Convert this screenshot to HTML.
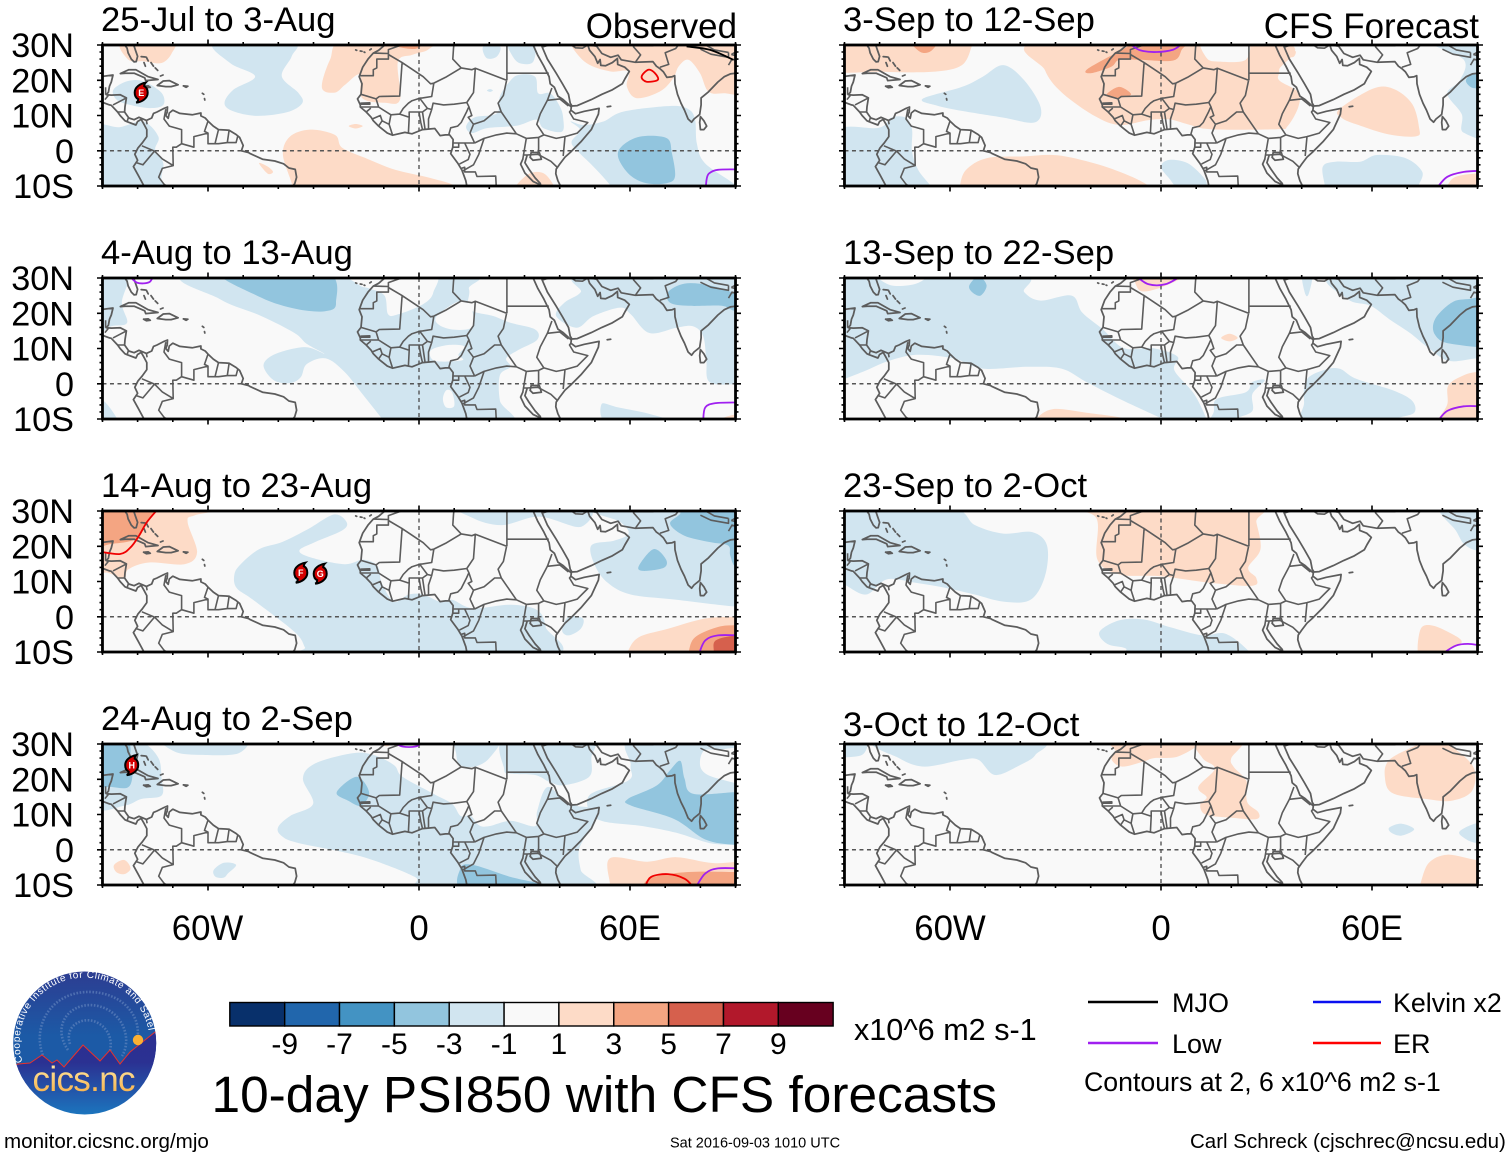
<!DOCTYPE html>
<html lang="en">
<head>
<meta charset="utf-8">
<title>10-day PSI850 with CFS forecasts</title>
<style>
html,body{margin:0;padding:0;background:#fff;}
svg{display:block;font-family:"Liberation Sans",sans-serif;}
</style>
</head>
<body>
<svg id="figure" xmlns="http://www.w3.org/2000/svg" width="1510" height="1158" viewBox="0 0 1510 1158">
  <rect x="0" y="0" width="1510" height="1158" fill="#fff"/>
  <g id="panels"></g>

  <g font-size="34.8" text-anchor="middle">
    <text x="207.5" y="940">60W</text>
    <text x="419" y="940">0</text>
    <text x="630" y="940">60E</text>
  </g>
  <g font-size="34.8" text-anchor="middle">
    <text x="950" y="940">60W</text>
    <text x="1161" y="940">0</text>
    <text x="1372" y="940">60E</text>
  </g>

  <g id="colorbar"></g>
  <text x="854" y="1040" font-size="30.6">x10^6 m2 s-1</text>
  <text x="211.5" y="1112" font-size="51.4">10-day PSI850 with CFS forecasts</text>

  <g>
    <line x1="1088" y1="1002" x2="1158" y2="1002" stroke="#000" stroke-width="2.4"/>
    <text x="1172" y="1012" font-size="27">MJO</text>
    <line x1="1088" y1="1043" x2="1158" y2="1043" stroke="#a020f0" stroke-width="2.6"/>
    <text x="1172" y="1053" font-size="27">Low</text>
    <line x1="1313" y1="1002" x2="1381" y2="1002" stroke="#0a10f0" stroke-width="2.6"/>
    <text x="1393" y="1012" font-size="26.8">Kelvin x2</text>
    <line x1="1313" y1="1043" x2="1381" y2="1043" stroke="#f00" stroke-width="2.6"/>
    <text x="1393" y="1053" font-size="27">ER</text>
    <text x="1084" y="1091" font-size="26.7">Contours at 2, 6 x10^6 m2 s-1</text>
  </g>

  <a><text x="4" y="1148" font-size="20.6">monitor.cicsnc.org/mjo</text></a>
  <text x="670" y="1147.5" font-size="14.5">Sat 2016-09-03 1010 UTC</text>
  <text x="1190" y="1148" font-size="20.5">Carl Schreck (cjschrec@ncsu.edu)</text>

  <g>
    <defs>
      <clipPath id="logo-clip"><circle cx="84.7" cy="1043" r="71.5"/></clipPath>
      <linearGradient id="logo-sky" x1="0" y1="0" x2="0" y2="1"><stop offset="0" stop-color="#2d3c91"/><stop offset="0.6" stop-color="#1c5aa6"/><stop offset="1" stop-color="#1c5aa6"/></linearGradient>
      <linearGradient id="logo-ground" x1="0" y1="0" x2="0" y2="1"><stop offset="0" stop-color="#2c2f90"/><stop offset="0.36" stop-color="#2b3192"/><stop offset="1" stop-color="#1a7cc2"/></linearGradient>
      <linearGradient id="logo-text-fill" x1="0" y1="0" x2="0" y2="1"><stop offset="0" stop-color="#fff0b0"/><stop offset="1" stop-color="#f7a83a"/></linearGradient>
      <path id="logo-arc" d="M 22.6 1062 A 65 65 0 1 1 148.6 1031"/>
    </defs>
    <g clip-path="url(#logo-clip)">
      <rect x="10" y="970" width="150" height="110" fill="url(#logo-sky)"/>
      <path d="M70 1044 C64 1026 82 1016 96 1022 C114 1030 114 1052 104 1062 M68 1050 C50 1024 72 1000 98 1006 C124 1012 132 1040 122 1056 M44 1058 C30 1026 52 990 92 992 C126 994 144 1020 136 1044" fill="none" stroke="#6f8fc4" stroke-width="2.6" stroke-dasharray="1.6 1.6" opacity="0.55"/>
      <path d="M10 1066 L18 1064 L30 1063 L42 1055 L52 1063 L57 1060 L64 1067 L83 1045 L100 1061 L110 1050 L120 1064 L130 1052 L155 1032 L160 1030 L160 1120 L10 1120 Z" fill="url(#logo-ground)" stroke="#e8322c" stroke-width="1"/>
      <circle cx="138" cy="1040" r="5.2" fill="#fbb034"/>
    </g>
    <text font-size="10" fill="#ffffff"><textPath href="#logo-arc" textLength="232">Cooperative Institute for Climate and Satellites</textPath></text>
    <text x="84" y="1091" font-size="35" text-anchor="middle" fill="url(#logo-text-fill)" textLength="103">cics.nc</text>
  </g>
</svg>

<script>
/* ---------- Colour scale data ---------- */
const colorLevels = [-9, -7, -5, -3, -1, 1, 3, 5, 7, 9];
const colorBoxes = ['#08306b', '#2166ac', '#4393c3', '#92c5de', '#d1e5f0', '#f9f9f9', '#fddbc7', '#f4a582', '#d6604d', '#b2182b', '#67001f'];

/* ---------- Axis data ---------- */
const latTickLabels = ['30N', '20N', '10N', '0', '10S'];
const latTickValues = [30, 20, 10, 0, -10];
const lonMajorTicks = [-60, 0, 60];
const lonMinorTicks = [-90, -80, -70, -50, -40, -30, -20, -10, 10, 20, 30, 40, 50, 70, 80, 90];
const latMinorTicks = [28, 26, 24, 22, 18, 16, 14, 12, 8, 6, 4, 2, -2, -4, -6, -8];

/* ---------- Map outlines (lon, lat) ---------- */
const coastlines = [
  [[-84,30.5],[-83,29.1],[-82.7,27.8],[-81.8,26],[-81,25.2],[-80.4,25.3],[-80,26.8],[-80.6,28.5],[-81.3,30.5]],
  [[-92,21],[-90,21.1],[-87,21.5],[-87.5,19.5],[-88,18.3],[-88.3,16.6],[-88.9,15.9],[-87.5,15.8],[-85,15.9],[-83.2,15],[-83.6,12.5],[-83.7,11],[-82.5,9.3],[-81,8.8],[-79.6,9.5],[-77.5,8.6],[-76,9.3],[-75.5,10.6],[-74.5,11],[-72.5,12],[-71.5,12.4],[-71.6,11],[-72,10],[-71.3,9.2],[-71,10.7],[-70,11.5],[-68,10.6],[-64.5,10.2],[-62,10.7],[-62,9.9],[-60.8,9.3],[-60,8.4],[-58.5,7],[-57,6],[-55,5.9],[-54,5.8],[-52,4.6],[-51,3.8],[-50,1.5],[-50.5,0],[-48.5,-0.5],[-48,-0.8],[-44.5,-2.4],[-41,-2.9],[-38.5,-3.7],[-37,-4.9],[-35.2,-5.3],[-34.8,-7.5],[-35.3,-9.3],[-36.5,-11]],
  [[-92,14.5],[-88,13],[-87.5,12.9],[-85.7,11],[-85,10],[-83.6,8.5],[-82.9,8.2],[-80.5,7.3],[-80,8.3],[-79,8.9],[-78.2,7.5],[-77.4,6],[-77.4,4],[-78.7,2.2],[-79.9,0.8],[-80.8,-1],[-80,-2.7],[-81.2,-4.5],[-79.8,-7],[-78.2,-10],[-77,-12]],
  [[-84.9,21.9],[-82.5,23],[-80.5,23],[-77,21],[-74.2,20.2],[-77.7,19.9],[-78,20.7],[-81,22],[-83.5,22],[-84.9,21.9]],
  [[-74.4,18.5],[-72.7,19.8],[-71,19.9],[-68.5,18.7],[-70.5,18.2],[-72,18.2],[-74.4,18.5]],
  [[-78.3,18.3],[-77,18.4],[-76.4,18],[-77.5,17.9],[-78.3,18.3]],
  [[-67,18.4],[-65.7,18.3],[-66.2,18],[-67,18.4]],
  [[-79,26.7],[-77.8,26.6]], [[-78.2,25],[-77.8,24]], [[-77.5,26.5],[-77,25.5]], [[-76.2,25],[-75.5,24]], [[-75,23.5],[-74.3,22.8]], [[-73.5,21.2],[-72.8,21.5]],
  [[-61.6,16.3],[-61.2,16]], [[-61,14.8],[-60.9,14.4]],
  [[-18,28.6],[-17.7,28.5]], [[-16.7,28.3],[-16.2,28.2]], [[-15.6,28],[-15.4,27.9]], [[-14,28.6],[-13.6,28.9]],
  [[53.5,12.5],[54.5,12.6]],
  [[-9.7,31],[-9.7,30],[-11.5,28.5],[-13,27.7],[-14.5,26],[-16,23.7],[-17,21],[-16.2,19],[-16.5,16],[-17.5,14.7],[-16.7,13],[-16.7,12.4],[-15,11],[-13.6,9.5],[-13,8.5],[-11.5,7],[-9,5],[-7.5,4.4],[-4,5.2],[-2,4.8],[0,5.6],[1,6],[4.5,6.3],[6,4.3],[7.5,4.5],[8.7,4.5],[9.7,3.2],[9.6,1],[9,-0.8],[11,-3.5],[12.2,-5.5],[13.3,-8.5],[13.8,-11]],
  [[32.5,31],[32.5,29.9],[33.8,27],[35.5,24],[37,21],[37.3,19],[38.5,18],[39.5,15.5],[41,14.5],[43.3,12.4],[43.2,11.5],[44.5,10.5],[47,11.2],[51.2,12],[51,10.4],[49,6],[46,2.5],[43,-0.5],[41.5,-1.8],[40,-3.8],[39,-5.2],[38.9,-6.5],[39.5,-8.5],[40.5,-10.5],[40.6,-12]],
  [[34.8,31],[35,29.5],[36.5,26],[39,22],[40.8,19],[42.5,16],[43,13.5],[43.5,12.7],[45,12.8],[49,14.5],[52,16],[55,17.3],[57.8,19],[58.6,20.5],[59.8,22.5],[58.5,23.7],[56.5,24.5],[56.4,26.2],[55,25],[53,24.1],[51.7,24.2],[51.5,25.9],[50.8,24.8],[50,26.7],[48.5,28.5],[48,30],[48.5,31]],
  [[48.5,30],[50.5,29.7],[52,27.6],[54.5,26.5],[56.6,27.1],[57.5,25.8],[61.5,25.1],[66.5,25.3],[67.5,24],[68.5,23.3],[69.5,22.4],[70.5,20.8],[72,21],[72.7,21.3],[72.8,19],[73.5,16],[74.5,13.5],[75.5,11.5],[76.5,9],[77.5,8.1],[78.2,9],[79.8,10.3],[80.2,13],[80.2,15],[82.3,16.7],[85,19.5],[86.8,21],[88.5,21.8],[90,22],[92,22.5]],
  [[80,9.7],[81,8.5],[81.8,7],[81,6],[80,6],[79.8,8],[80,9.7]],
  [[31.9,-0.5],[34.2,-0.5],[34.8,-2.4],[32.4,-2.7],[31.6,-1.9],[31.9,-0.5]],
  [[29.5,-2.4],[28.9,-3.8],[30.1,-6.3],[32.4,-8.7],[34.8,-9.8]],
  [[30.7,-1.4],[30.1,-3.4],[31.3,-5.3],[33,-7.7],[34.5,-9.3]]
];
const borders = [
  [[-89.1,18],[-89.1,15.9]], [[-88.3,15.7],[-89.3,14.5]], [[-83.2,15],[-87,13]], [[-83.7,11],[-85.7,11]], [[-82.6,9.5],[-83,8.2]], [[-77.5,8.6],[-77.3,7.5]],
  [[-72,11.8],[-72.5,9],[-71,7],[-67.5,6],[-67.5,2],[-69,1],[-70,1],[-69.9,-4.2],[-73,-2.3],[-75.2,-0.1],[-78.8,1.4]],
  [[-75.2,-0.1],[-78.5,-4],[-80.3,-3.4]],
  [[-69.9,-4.2],[-73,-5],[-74,-7.5],[-72.5,-9.5],[-70.5,-11]],
  [[-60,8.4],[-61,5.5],[-60,5],[-60,2],[-57,2],[-54.5,2.3],[-52,2.3],[-51.5,4.3]],
  [[-57,6],[-58,2]], [[-54,5.8],[-54.5,2.3]], [[-67.5,2],[-64,1],[-64,4],[-60,5]],
  [[-8.7,27.6],[-13,27.7]],
  [[-17,21.3],[-13,21.3],[-13,23],[-12,23.5],[-12,26],[-8.7,26],[-8.7,28.7],[-5,30],[-3,31]],
  [[-8.7,27.3],[-4.8,25],[-5.5,15.5],[-11.3,15.4],[-12.2,14.7],[-16.5,16]],
  [[-4.8,25],[1.2,21],[3.3,19],[4.2,19.2],[7.5,20.8],[12,23.5],[15,23],[16,23.4],[24.9,20]],
  [[12,23.5],[9.6,26],[9.8,29],[10,31]],
  [[25,31],[25,20]],
  [[25,22],[36.9,22]],
  [[4.2,19.1],[3.6,15.4],[1,15],[0.2,14.9],[-2,14.2],[-3,13.5],[-4.5,12],[-5.5,10.4]],
  [[16,23.4],[15.5,16.5],[13.6,13.7]],
  [[13.6,13.7],[10,13.2],[7,13],[4,13.5],[3.6,11.7],[2.7,9],[2.7,6.3]],
  [[0.2,14.9],[2.4,12],[3.6,11.7]],
  [[2.4,12],[1,11],[1.7,6.2]],
  [[1,11],[0,11],[0.5,8],[1,6]],
  [[0,11],[-2.8,11],[-2.8,9.5],[-3,5]],
  [[-2.8,9.5],[-5.5,10.4],[-8,10.2],[-8.5,7.5],[-7.5,4.4]],
  [[-8.5,7.5],[-10.5,8.5],[-11.5,7]],
  [[-10.5,8.5],[-11,10],[-13.3,9]],
  [[-8,10.2],[-11.5,12.4],[-12.2,14.7]],
  [[-11.5,12.4],[-16.7,12.4]],
  [[-16.7,13.5],[-14,13.6],[-14,13.2],[-16.7,13.2]],
  [[-15,11],[-13.7,12.1]],
  [[13.6,13.7],[14.2,12.5],[13.5,11],[12,8],[11,7],[9,6.5],[8.5,4.7]],
  [[14.2,12.5],[15,10],[14,9.5],[15.5,7.5],[14.5,5],[15.8,2.2]],
  [[15.8,2.2],[9.8,2.2]],
  [[11.3,2.2],[11.3,1],[9.6,1]],
  [[13,2.2],[14.5,-1],[14,-2.5],[11.5,-3.8]],
  [[15.8,2.2],[18.5,3.5],[17,-1],[15.5,-4],[12.3,-5.8]],
  [[18.5,3.5],[22,4.5],[25,5],[27.7,4.8]],
  [[15.5,7.5],[18.5,8.5],[21.5,11],[23.4,11]],
  [[24.9,20],[24,15.7],[22.5,13.5],[23.4,11],[27.7,4.8],[30.5,3.5],[34,3.8],[35.5,4.5],[33.5,7.5],[34.5,10.5],[36.5,14.3],[37.8,17.8]],
  [[36.5,14.3],[40,14.7],[42.5,12.7]],
  [[43.2,11.5],[42.8,11],[44,9],[48,8],[45,5],[41.5,4]],
  [[35.5,4.5],[39,3.5],[41.5,4],[41,-1.5]],
  [[34,3.8],[34,0.5],[33.8,-1],[37.5,-3],[39.2,-4.6]],
  [[30.5,3.5],[29.7,-1.2],[30.7,-1.2],[33.8,-1]],
  [[29.7,-1.2],[29.5,-2.4]],
  [[12,-5],[13,-4.7],[13,-6],[16,-6],[16.5,-7.3],[21.8,-7.2],[22,-11]],
  [[81,30.3],[84,28.6],[88,27.9]], [[80,28.8],[83,27.4],[88,26.5],[88,27.9]], [[88.8,27.3],[90,27],[92,27]], [[88.8,27.3],[90,28],[91,28]], [[88,24.3],[89,26],[92,25.2]],
  [[74.5,31],[73,29],[70,27.8],[71,24.5],[68.5,23.7]],
  [[61.5,25.1],[63,27.2],[61,29.5],[61,31]], [[61,29.8],[66.5,29.8],[66,31]],
  [[48,30],[46.5,29.1],[44.5,29.2],[42,31]], [[35,29.4],[37,30],[38,31]]
];

/* ---------- Shaded PSI850 anomaly regions: value (x10^6 m2 s-1), outline (lon, lat) ---------- */
const shadeJul25 = [
  [2, [[-84.5,31],[-82.6,25.8],[-78.4,25.4],[-73.2,24.9],[-70.3,27.7],[-70.3,31]]],
  [2, [[-36,-10],[-38.7,-1.1],[-36.7,4],[-31,6],[-23.9,4.5],[-21.9,0.9],[-15.4,-2],[-6.8,-5.4],[3.1,-7.7],[10.2,-10],[10.2,-13],[-36.7,-13]]],
  [2, [[-20,7],[-18,7.6],[-16,7],[-18,6.3]]],
  [2, [[-45.5,-3.5],[-43,-4.5],[-41.5,-6],[-43,-6.5]]],
  [2, [[-27.6,17.9],[-25.3,25.8],[-21,31.5],[3.1,31.5],[2.6,28.7],[-2,27.2],[-6,25.2],[-5.4,14.5],[-9.7,13.6],[-16.2,15],[-16.8,21.6],[-21,18.7],[-23.9,16.5]]],
  [4, [[-8,31.5],[-8,30],[-1,28.9],[1,31.5]]],
  [2, [[27.8,-9.7],[31.6,-6.4],[35.4,-6.4],[38.2,-9.7],[38.2,-12],[27.8,-12]]],
  [2, [[43.4,29.6],[47.7,24.8],[54.3,22.5],[59.5,22.5],[59.1,18.2],[61.9,14.9],[68.5,16.8],[72.3,20.6],[73.8,23.9],[76.6,25.8],[79.9,22],[82.3,16.8],[86.6,16.3],[93,17.3],[93,31.5],[43.4,31.5]]],
  [-2, [[-86.9,17.3],[-83,19.7],[-78.4,19.7],[-73.2,16.4],[-72.7,13],[-76.5,12.1],[-82.2,13],[-86,14.5]]],
  [-2, [[-58,30.6],[-53.7,24.9],[-46.6,21.1],[-52.8,17.3],[-55.3,13.5],[-52.8,11.2],[-46.1,9.9],[-37.6,10.9],[-33.2,13.5],[-34.3,16.4],[-39,21.1],[-36.2,26.8],[-36.2,30.6]]],
  [-2, [[-93,6],[-85,6.7],[-78.4,8.3],[-74.1,4],[-75,0.3],[-72.7,-3.5],[-73.2,-8.2],[-70.8,-11],[-70.8,-13],[-93,-13]]],
  [-2, [[18.3,29.6],[23,29.6],[22.1,26.7],[19.2,26.3]]],
  [-2, [[25.4,31],[32.5,31],[32.5,25.3],[28.7,24.8],[26.4,27.2]]],
  [-2, [[28.2,21.5],[33,21],[33.9,16.3],[37.3,16.3],[40.1,12.5],[41,9.2],[40.6,5.4],[35.4,6.4],[33.5,8.8],[28.7,7.3],[25.9,6.9],[19.2,6.4],[15,5],[13.4,6.9],[15.9,9.5],[22.1,10.6],[23,15.4],[25.4,19.2]]],
  [-2, [[19.3,17.1],[20.2,17.5],[21,17.1],[20.2,16.7]]],
  [-2, [[43.1,8.3],[46.7,7.3],[52.4,8.3],[58.1,11.1],[71.4,12.7],[76.6,11.8],[78.5,8.8],[79,2.1],[81.3,-3.5],[89.9,-9.7],[89.9,-12],[55.3,-12],[54.3,-9.7],[49.6,-4.5],[44.8,0.2],[43.4,2.6],[45.8,5.9]]],
  [-4, [[57.6,1.2],[62.8,4],[70.4,3.6],[71.9,-0.7],[72.8,-7.3],[70.4,-9.2],[64.7,-9.2],[60,-6.9],[56.7,-2.1]]]
];
const shadeAug04 = [
  [-2, [[-64,31.2],[10.6,31.2],[14.2,26.9],[14.2,21.2],[21.2,19.2],[26,17.3],[33,15.4],[33.6,12.5],[28.3,9.6],[24.8,7.2],[26,4.8],[23,2.4],[23,-4.8],[25.4,-11.5],[-9.4,-11.5],[-10.6,-9.8],[-16.5,-2.4],[-21.2,3.4],[-26.5,7.2],[-31.9,5.6],[-33.6,1.9],[-36.6,0.2],[-41.3,1],[-44.2,5.3],[-40.7,8.5],[-32.4,10.4],[-26.9,8.5],[-31.9,11.3],[-35.4,14.4],[-44.8,19.2],[-56.6,24]]],
  [0, [[-20,32],[3.5,32],[4.1,26],[1.2,22.6],[-5.9,19.7],[-8.8,19.7],[-9.8,25],[-14,27],[-17,28]]],
  [0, [[5.3,19.5],[11.8,23.5],[15,21],[15,16],[9.4,15.4],[5.3,17]]],
  [0, [[3.5,9.6],[8.3,11],[12.9,10.6],[11.2,8.2],[12.4,6.7],[5.9,6.3],[3.5,7.2]]],
  [0, [[7.7,-1.9],[9.4,-2.4],[10,-6.3],[7.7,-6.7],[6.8,-4.3]]],
  [-2, [[-93,31],[-83,31],[-84.5,23],[-83,17.3],[-87.5,16.3],[-93,14.4]]],
  [-4, [[-56.6,32],[-27,32],[-23.6,23],[-26.5,20.6],[-34.8,21.2],[-45,24.5]]],
  [-2, [[47.2,31],[46,26],[41.3,23],[39,19.2],[44.8,15.9],[49.6,19.2],[57.2,21.6],[60.2,19.7],[65.5,14.4],[73.2,15.9],[77.9,16.3],[80.8,13.5],[81.7,6.7],[82.6,0.5],[90.3,-0.2],[96.8,-0.2],[96.8,31.2]]],
  [-4, [[70.8,26],[75.5,28.4],[82.6,27.9],[90.3,25.5],[96.8,23],[90.3,20.7],[86.1,22.1],[76.7,22.1],[71.4,23]]],
  [-2, [[51.9,-5.8],[56.6,-6.7],[66,-8.7],[73.2,-11.5],[54.3,-11.5]]],
  [-2, [[-93,-4.5],[-89.5,-5],[-85.5,-10.5],[-86,-12],[-93,-12]]],
  [2, [[86,-10],[90.3,-8.7],[96,-8.7],[96,-12],[86,-12]]]
];
const shadeAug14 = [
  [2, [[-54.3,31.2],[-63.7,28.8],[-65.8,26.9],[-63.1,18.3],[-66.7,14.9],[-76.7,15.4],[-82.6,13.5],[-83.8,11],[-88.5,12.5],[-93,13.5],[-93,31.2]]],
  [4, [[-92,31],[-76,31],[-77.8,26.4],[-80.2,22.1],[-87.3,20.7],[-92,20.7]]],
  [-2, [[-24.2,29],[-20.6,26.9],[-21.8,24.5],[-29.5,21.2],[-34,18.8],[-30.7,16.8],[-21.2,14.9],[-15.9,16.2],[-11.8,14.4],[-10.6,9.6],[-7.1,4.3],[-2.9,6.3],[1.2,6.3],[5.9,4.3],[9.4,4.8],[15.3,2.4],[26,3.4],[33.6,1.9],[36,-2.9],[36,-11.5],[-31.3,-11.5],[-32.4,-8.7],[-35.4,-4.3],[-47.2,4.8],[-51.9,8.2],[-52.5,12],[-50.7,14.9],[-45.4,19.2],[-38.9,21.2],[-31.3,25]]],
  [-2, [[42.5,0],[46.6,-0.5],[46,-3.4],[42.5,-5.3],[40.7,-3.8]]],
  [-2, [[11.8,32],[46.6,32],[46,25.5],[34.2,28.4],[23.6,26],[15.3,28]]],
  [-2, [[50.1,31],[96,31],[96,3],[89.7,2.9],[73.2,4.8],[60.2,6.3],[53.7,9.6],[50.1,14.4],[49,20.2],[55.5,21.6],[59.6,23.6],[57.2,26.9]]],
  [-4, [[71.4,26.4],[74.3,29.3],[74.3,32],[96,32],[96,13.5],[90.3,13.9],[88.5,17.3],[87.9,20.2],[82.6,21.2],[75.5,23]]],
  [-4, [[62.5,14.4],[66.7,19.2],[70.2,16.3],[69.6,13.9],[63.7,13]]],
  [2, [[59.4,-9.8],[62.5,-5.8],[70.8,-3.4],[81.4,-0.5],[90.3,0],[96,0],[96,-11.5],[59.4,-11.5]]],
  [4, [[76.7,-9.8],[78.5,-5.8],[85,-2.9],[90.3,-2.4],[96,-2.4],[96,-11.5],[76.7,-11.5]]],
  [6, [[83.8,-9.8],[84.4,-6.7],[90.3,-5.3],[96,-5.3],[96,-11.5],[83.8,-11.5]]]
];
const shadeAug24 = [
  [-2, [[-80.2,31],[-74.3,26.4],[-73.2,20.2],[-73.2,15.4],[-79,14.4],[-83.8,12.5],[-93,12.5],[-93,31]]],
  [-4, [[-93,31],[-83.2,31],[-82,26],[-81.4,22],[-82.6,17.8],[-87.3,17.8],[-93,19]]],
  [-2, [[-72.6,32],[-50.2,32],[-51.3,27.4],[-62.5,26.9],[-69.6,27.9]]],
  [-2, [[-40.1,6.3],[-36.6,9.6],[-30.1,13],[-33,20.2],[-29.5,24.5],[-18.9,27.4],[-13,26.9],[-7.1,24],[-4.7,20.7],[4.1,15.9],[9.4,13],[11.8,9.6],[14.7,9.6],[17.1,6.9],[20,6.7],[26,8.2],[33,6.7],[33.6,11],[36.6,17.8],[42.5,13],[50.7,11],[47.2,3.8],[45.4,-0.5],[46,-5.8],[47.8,-11.5],[1.8,-11.5],[-1.2,-7.7],[-16.5,-1.9],[-34.2,1.9],[-38.9,3.8]]],
  [-2, [[11.2,32],[23,32],[20,26],[15.9,23.6],[11.8,24],[10.6,27]]],
  [-2, [[24.8,32],[48.4,32],[49,26],[48.4,20.7],[41.3,18.3],[37.2,19.2],[33,21.2],[26,21.6],[24.2,23]]],
  [-2, [[61.4,32],[96,32],[96,1.4],[89.7,1.4],[82.6,1.9],[73.2,4.8],[63.7,6.7],[50.7,8.7],[48.4,15.4],[59.6,19.7],[60.2,24]]],
  [0, [[80.8,27.9],[84.9,28.4],[96,28.4],[96,18.8],[85,20.2],[80.2,23]]],
  [-4, [[59.4,14.4],[67.7,18.3],[71.4,22.6],[74.3,25.2],[75.5,20.2],[77.9,15.9],[89.7,16.3],[96,16.3],[96,1.4],[89.7,1.4],[81.4,2.9],[72.6,8.7],[60.4,12.5]]],
  [-4, [[11.8,-5.3],[15.3,-4.3],[26,-7.7],[34.8,-9.8],[34.8,-11.5],[13,-11.5]]],
  [-4, [[-23.4,16.3],[-17.7,20.7],[-14.2,16.3],[-16.5,12.5],[-20.1,13.9]]],
  [2, [[-86.7,-4.3],[-83.8,-2.9],[-82,-5.3],[-83.8,-6.9],[-86.1,-6.3]]],
  [-2, [[-58.4,-5.8],[-55.5,-3.7],[-52,-4.3],[-54.3,-6.7],[-55.5,-7.9],[-57.8,-7.7]]],
  [2, [[54.3,-9.8],[54.3,-2.4],[64.9,-3.4],[73.2,-2.1],[83.8,-3.8],[96,-3.7],[96,-11.5],[54.3,-11.5]]],
  [4, [[63.7,-10],[66.7,-7.7],[76.7,-6.3],[90.3,-6.3],[96,-6.3],[96,-11.5],[63.7,-11.5]]],
  [2, [[-10.5,31],[-7.5,31],[-8.5,29.5],[-10,29.5]]]
];
const shadeSep03 = [
  [2, [[-93,31],[-53,31],[-53.7,29.8],[-56.6,24.3],[-64.9,22.4],[-80.2,22.4],[-93,22.9]]],
  [4, [[-70.8,31],[-64,31],[-65.5,28.2],[-68.4,28]]],
  [2, [[-34.2,31],[33,31],[33.6,22.9],[33.6,20],[39,16.6],[39,12.3],[36,7],[33,6.1],[14.2,6.1],[8.3,7.3],[2.4,8.9],[-3.5,8.7],[-11.8,7.3],[-18.9,9.9],[-28.3,16.6],[-33,22.9]]],
  [0, [[11.8,31.5],[24.1,31.5],[24.1,25.8],[16.5,25.3],[13,26.3]]],
  [2, [[36.6,28.2],[38.3,28.2],[37.8,26.7],[36.3,26.7]]],
  [4, [[-8.8,31.5],[-8.8,30],[-20.6,23.4],[-20,22],[-14.2,23.8],[-11.8,25.8],[-5.9,25.8],[3.5,25.6],[5.9,28.7],[7,31.5]]],
  [4, [[-15.3,16.2],[-11.8,18.1],[-8.5,16],[-11.8,15],[-14.7,15.2]]],
  [-2, [[-67.8,14.7],[-56.6,18.1],[-50.7,21],[-44.8,24.3],[-38.9,20],[-34.2,12.3],[-36,8],[-44.8,9.4],[-56.6,11.3],[-63.7,12.8]]],
  [-2, [[-93,5.3],[-80.2,6.5],[-76.7,9.4],[-72.6,9.4],[-70.8,6.1],[-70.8,-0.2],[-69,-5.5],[-65.5,-10],[-65.5,-11.7],[-93,-11.7]]],
  [2, [[-57.2,-10],[-55.5,-5.5],[-49.6,-2.1],[-39,-1.6],[-29.5,-1.3],[-18.9,-3.6],[-9.4,-6.9],[-3.5,-10],[-3.5,-11.7],[-57.2,-11.7]]],
  [-2, [[0,-4.5],[2.4,-2.6],[7.7,-3.6],[12.4,-7.9],[13,-10],[13,-11.5],[5.9,-11.5],[2.4,-7.9]]],
  [-2, [[46,-4.5],[49.6,-3.1],[56.6,-3.1],[61.4,-1.2],[69.6,-2.1],[74.3,-6],[73.2,-10],[73.2,-11.7],[46.6,-11.7],[46.6,-10]]],
  [2, [[50.7,11.8],[60.2,17.6],[66,17.6],[71.4,13.3],[73.4,6.5],[72.6,4.1],[64.9,4.6],[55.5,7.5],[51.3,9.4]]],
  [-2, [[76.7,31],[96,31],[96,5.1],[86.1,5.1],[85.5,10.4],[81.4,16.2],[85,20],[86.1,25.8]]],
  [-4, [[86.7,20],[88.5,21.9],[90.3,21.5],[96,21.5],[96,17],[90.3,17.6],[88,18.1]]],
  [2, [[81.4,-10],[83.8,-7.4],[90.3,-6.4],[96,-6.4],[96,-11.7],[81.4,-11.7]]]
];
const shadeSep13 = [
  [-2, [[-93,31.2],[-41.3,31.2],[-38.9,26],[-34.2,23.6],[-25.4,25],[-22.4,20.2],[-16.5,15.4],[-10.6,10.1],[-2.4,10.1],[4.7,7.7],[3.8,3.8],[9.4,-2.9],[13,-10.1],[13,-11.5],[2.4,-11.5],[0,-9.8],[-11.8,-4.3],[-21.2,0.5],[-28.3,4.3],[-37.8,4.8],[-50.7,4.3],[-59,7.2],[-69.6,8.2],[-77.9,6.3],[-83.8,3.8],[-90,1.4],[-93,1]]],
  [0, [[-80.2,31],[-67.2,31],[-69.6,28.4],[-76.7,27.9]]],
  [-4, [[-54.5,27.9],[-51.9,30.5],[-49.6,27.9],[-51.3,25],[-53.7,26]]],
  [2, [[-13,31.5],[-8.3,30],[-5.9,26.4],[-1.2,26.9],[5.9,30],[5.9,31.5]]],
  [2, [[17.1,13],[19.5,14.2],[21.8,13],[19.5,12]]],
  [-2, [[15.9,-4.3],[24.1,-2.4],[26,0.5],[29.5,1],[26,-2.9],[26,-7.7],[21.8,-9.8],[21.8,-11.5],[14,-11.5],[15,-8]]],
  [-2, [[41.3,1],[46,3.8],[50.7,4.3],[55.5,1.4],[66,-1.9],[71.4,-4.8],[72,-8.2],[67.3,-9.8],[67.3,-11.5],[41.9,-11.5],[40.7,-5.3]]],
  [-2, [[40.1,31],[43,31],[42,25.5],[41,25.5]]],
  [-2, [[49.6,31],[96,31],[96,7.2],[89.7,7.2],[81.7,6.5],[75.5,10.6],[70.8,14.4],[64.9,18.3],[59.6,22.1],[53.1,24]]],
  [-4, [[77.9,18.3],[82.6,23],[87.3,24],[96,24],[96,11.5],[82.6,11.3],[77.9,13.9]]],
  [2, [[81.7,-0.5],[86.1,2.4],[90.3,3.4],[96,3.4],[96,-11.5],[79,-11.5],[79,-9.8],[81.4,-5.8]]],
  [2, [[-35.4,-9.8],[-30.7,-7.2],[-21.2,-8.2],[-10.6,-9.8],[-10.6,-11.5],[-35.4,-11.5]]]
];
const shadeSep23 = [
  [-2, [[-93,31.2],[-60.8,31.2],[-52.9,26],[-44.8,23.6],[-36.6,24],[-32.4,20.2],[-33,11.5],[-37.1,4.8],[-44.8,4.3],[-53,6.3],[-61.4,8.2],[-69.6,9.6],[-77.9,10.6],[-83.8,6.3],[-90,9.1],[-93,10]]],
  [2, [[-26,32],[-26.5,30.5],[-18.4,28],[-18.1,16.3],[-11.8,12],[0,11.5],[14.2,9.6],[26,8.8],[27.1,11],[24.8,13.9],[28.3,19.2],[27.1,26.9],[26,32]]],
  [-2, [[-17.5,-4.3],[-11.8,-1],[-4.7,-0.8],[2.4,-2.9],[11.8,-5.3],[18.3,-4.8],[24.8,-9.6],[24.8,-11.5],[-8,-11.5],[-10,-9],[-15.3,-7.7]]],
  [-2, [[79.6,31],[96,31],[96,18.5],[89.7,18.8],[86.1,20.7],[83.8,24.5]]],
  [2, [[73.7,-3.8],[76.7,-2.4],[82,-4.5],[85.5,-7.2],[81,-10],[80,-11.5],[73.5,-11.5]]]
];
const shadeOct03 = [
  [-2, [[-93,31],[-83.2,31],[-83.2,30],[-85,26.9],[-90,26.2],[-93,26]]],
  [-2, [[-80.2,31],[-74.3,25.9],[-67.2,23.6],[-56.6,25.5],[-51.9,25.5],[-47.2,21.2],[-40.1,24],[-35.7,26.9],[-36,31]]],
  [2, [[-13,31],[10,31],[5,26.5],[-2,26],[-5,25],[-11,23.6],[-14,25.5],[-13,28]]],
  [2, [[10,31],[23,31],[20,26],[20.6,23.6],[24.2,19.7],[24.2,15.9],[24.8,13],[27.7,10.6],[27.1,8.7],[20,9.1],[14.2,9.6],[11.8,10.6],[11.2,13],[13,14.9],[10.6,17.8],[15.3,23],[11.8,26]]],
  [2, [[64.9,25.5],[73.2,30],[73.2,31],[79.6,31],[88.5,24],[88.5,16.8],[82.6,13.9],[75.5,14.4],[66,16],[63.7,20.2]]],
  [-2, [[64.9,6.3],[68.4,7.4],[72,5.8],[68.4,4],[65.5,4.8]]],
  [-2, [[85,5.3],[90.3,7.7],[96,7.7],[96,1.9],[89.7,1.9],[86.1,3.4]]],
  [2, [[73.7,-9.8],[76.1,-3.8],[81.4,-1.4],[89.7,-2.9],[96,-2.9],[96,-11.5],[73.2,-11.5]]]
];

/* ---------- Filtered wave contours (type, closed, lon/lat vertices) ---------- */
const contoursJul25 = [
  ['er', true, [[63.3,21],[65.2,23],[67.1,22],[67.9,20.1],[64.7,19.6]]],
  ['low', false, [[81.5,-11],[81.8,-8],[82.5,-6.4],[85,-5.4],[91,-5.3]]],
  ['mjo', false, [[76.1,29.6],[82.8,28.6],[89.4,25.8]]]
];
const contoursAug04 = [
  ['low', false, [[80.8,-10.5],[81.4,-6.7],[84.4,-5.5],[91,-5.3]]],
  ['low', false, [[-82.6,31],[-80.2,28.7],[-76.7,28.8],[-75.5,31]]]
];
const contoursAug14 = [
  ['er', false, [[-91,18.5],[-85,17.8],[-82,19.7],[-79.6,23],[-77.3,26.9],[-74.3,30.5]]],
  ['low', false, [[79.6,-10.5],[81.4,-6.7],[85,-5.3],[91,-5.3]]]
];
const contoursAug24 = [
  ['er', false, [[64.3,-10.5],[66,-7.7],[70.8,-6.9],[75.5,-8.2],[77.9,-10.5]]],
  ['low', false, [[78.8,-10.5],[81.4,-6.7],[85,-5.3],[91,-5.3]]],
  ['low', false, [[-7.1,30.5],[-4.7,29.3],[-1,29.3],[1.2,30.5]]]
];
const contoursSep03 = [
  ['low', false, [[-8.8,30.3],[-5.9,28.5],[-1.2,28],[3.5,28.7],[5.9,30.3]]],
  ['low', false, [[78.5,-10.5],[81.4,-7.4],[86.1,-6],[91,-5.7]]]
];
const contoursSep13 = [
  ['low', false, [[-6.8,30.3],[-3.5,28.2],[1.2,28.2],[5.3,30.3]]],
  ['low', false, [[78.8,-10.5],[81.4,-7.7],[86.1,-6.4],[91,-6.4]]]
];
const contoursSep23 = [
  ['low', false, [[80,-10.5],[83.8,-8.2],[87.3,-7.7],[91,-8.2]]]
];
const contoursOct03 = [];

/* ---------- Tropical cyclone markers ---------- */
const stormsJul25 = [['E', -79, 16.5]];
const stormsAug14 = [['F', -33.6, 12.5], ['G', -28.1, 12.2]];
const stormsAug24 = [['H', -81.7, 24]];
const stormsNone = [];

/* ---------- Panel titles ---------- */
const panelTitles = ['25-Jul to 3-Aug', '4-Aug to 13-Aug', '14-Aug to 23-Aug', '24-Aug to 2-Sep', '3-Sep to 12-Sep', '13-Sep to 22-Sep', '23-Sep to 2-Oct', '3-Oct to 12-Oct'];

/* ---------- Drawing ---------- */
const SVGNS = 'http://www.w3.org/2000/svg';
const PX_PER_LON = 3.517;
const PX_PER_LAT = 3.525;
const panelLayouts = [
  { col: 0, row: 0, shade: shadeJul25, lines: contoursJul25, storms: stormsJul25, titleShift: 0 },
  { col: 0, row: 1, shade: shadeAug04, lines: contoursAug04, storms: stormsNone, titleShift: 0 },
  { col: 0, row: 2, shade: shadeAug14, lines: contoursAug14, storms: stormsAug14, titleShift: 0 },
  { col: 0, row: 3, shade: shadeAug24, lines: contoursAug24, storms: stormsAug24, titleShift: 0 },
  { col: 1, row: 0, shade: shadeSep03, lines: contoursSep03, storms: stormsNone, titleShift: 0 },
  { col: 1, row: 1, shade: shadeSep13, lines: contoursSep13, storms: stormsNone, titleShift: 0 },
  { col: 1, row: 2, shade: shadeSep23, lines: contoursSep23, storms: stormsNone, titleShift: 0 },
  { col: 1, row: 3, shade: shadeOct03, lines: contoursOct03, storms: stormsNone, titleShift: 6 }
];
const lineColors = { er: '#f00000', low: '#a020f0', mjo: '#000000', kelvin: '#0a10f0' };

function colorForValue(v) {
  let i = 0;
  while (i < colorLevels.length && v >= colorLevels[i]) i++;
  return colorBoxes[i];
}
function smoothPath(pts, closed, xf, yf) {
  const p = pts.map(function (q) { return [xf(q[0]), yf(q[1])]; });
  const n = p.length;
  const at = function (i) {
    if (closed) return p[(i + n) % n];
    return p[Math.max(0, Math.min(n - 1, i))];
  };
  let d = 'M' + p[0][0].toFixed(1) + ' ' + p[0][1].toFixed(1);
  const segs = closed ? n : n - 1;
  for (let i = 0; i < segs; i++) {
    const a = at(i - 1), b = at(i), c = at(i + 1), e = at(i + 2);
    const c1x = b[0] + (c[0] - a[0]) / 6, c1y = b[1] + (c[1] - a[1]) / 6;
    const c2x = c[0] - (e[0] - b[0]) / 6, c2y = c[1] - (e[1] - b[1]) / 6;
    d += 'C' + c1x.toFixed(1) + ' ' + c1y.toFixed(1) + ' ' + c2x.toFixed(1) + ' ' + c2y.toFixed(1) + ' ' + c[0].toFixed(1) + ' ' + c[1].toFixed(1);
  }
  return closed ? d + 'Z' : d;
}
function straightPath(lists, xf, yf) {
  return lists.map(function (pts) {
    return 'M' + pts.map(function (q) { return xf(q[0]).toFixed(1) + ' ' + yf(q[1]).toFixed(1); }).join('L');
  }).join('');
}
function make(tag, parent) {
  const el = document.createElementNS(SVGNS, tag);
  parent.appendChild(el);
  return el;
}

const panelsRoot = document.getElementById('panels');
panelLayouts.forEach(function (cfg, idx) {
  const x0 = cfg.col === 0 ? 419 : 1161;
  const top = 45 + cfg.row * 233;
  const bottom = top + 40 * PX_PER_LAT;
  const xf = function (lon) { return x0 + lon * PX_PER_LON; };
  const yf = function (lat) { return top + (30 - lat) * PX_PER_LAT; };
  const left = xf(-90), right = xf(90);
  const slug = panelTitles[idx].toLowerCase().replace(/ /g, '-');

  const g = make('g', panelsRoot);
  
  

  const clip = make('clipPath', g);
  clip.setAttribute('id', 'panel-clip-' + idx);
  const clipRect = make('rect', clip);
  clipRect.setAttribute('x', left);
  clipRect.setAttribute('y', top);
  clipRect.setAttribute('width', right - left);
  clipRect.setAttribute('height', bottom - top);

  const bg = make('rect', g);
  
  
  bg.setAttribute('x', left);
  bg.setAttribute('y', top);
  bg.setAttribute('width', right - left);
  bg.setAttribute('height', bottom - top);
  bg.setAttribute('fill', colorBoxes[5]);

  const inner = make('g', g);
  inner.setAttribute('clip-path', 'url(#panel-clip-' + idx + ')');

  cfg.shade.forEach(function (region) {
    const path = make('path', inner);
    
    
    path.setAttribute('d', smoothPath(region[1], true, xf, yf));
    path.setAttribute('fill', colorForValue(region[0]));
  });

  const coast = make('path', inner);
  
  
  coast.setAttribute('d', straightPath(coastlines, xf, yf));
  coast.setAttribute('fill', 'none');
  coast.setAttribute('stroke', '#5c5c5c');
  coast.setAttribute('stroke-width', '1.75');
  coast.setAttribute('stroke-linejoin', 'round');
  coast.setAttribute('stroke-linecap', 'round');

  const bord = make('path', inner);
  
  
  bord.setAttribute('d', straightPath(borders, xf, yf));
  bord.setAttribute('fill', 'none');
  bord.setAttribute('stroke', '#5c5c5c');
  bord.setAttribute('stroke-width', '1.6');
  bord.setAttribute('stroke-linejoin', 'round');

  const eq = make('line', inner);
  
  
  eq.setAttribute('x1', left);
  eq.setAttribute('x2', right);
  eq.setAttribute('y1', yf(0));
  eq.setAttribute('y2', yf(0));
  eq.setAttribute('stroke', '#555');
  eq.setAttribute('stroke-width', '1.4');
  eq.setAttribute('stroke-dasharray', '4 3.5');

  const pm = make('line', inner);
  
  
  pm.setAttribute('x1', xf(0));
  pm.setAttribute('x2', xf(0));
  pm.setAttribute('y1', top);
  pm.setAttribute('y2', bottom);
  pm.setAttribute('stroke', '#555');
  pm.setAttribute('stroke-width', '1.4');
  pm.setAttribute('stroke-dasharray', '4 3.5');

  cfg.lines.forEach(function (item) {
    const path = make('path', inner);
    
    
    path.setAttribute('d', smoothPath(item[2], item[1], xf, yf));
    path.setAttribute('fill', 'none');
    path.setAttribute('stroke', lineColors[item[0]]);
    path.setAttribute('stroke-width', '1.8');
  });

  cfg.storms.forEach(function (storm) {
    const sg = make('g', inner);
    
    
    sg.setAttribute('transform', 'translate(' + xf(storm[1]).toFixed(1) + ' ' + yf(storm[2]).toFixed(1) + ')');
    const arms = make('path', sg);
    arms.setAttribute('d', 'M4.5 -10 C-1 -9 -6.5 -5.5 -6.5 0 C-6.5 3.5 -5 5.5 -3 6.5 C-3 8 -4 9.5 -5 10 C1 9.5 6.5 5.5 6.5 0 C6.5 -3.5 5 -5.5 3 -6.5 C3 -8 3.5 -9 4.5 -10Z');
    arms.setAttribute('fill', '#d40000');
    arms.setAttribute('stroke', '#000');
    arms.setAttribute('stroke-width', '2');
    const label = make('text', sg);
    label.setAttribute('x', '0');
    label.setAttribute('y', '3.2');
    label.setAttribute('text-anchor', 'middle');
    label.setAttribute('font-size', '9');
    label.setAttribute('font-weight', 'bold');
    label.setAttribute('fill', '#fff');
    label.textContent = storm[0];
  });

  /* frame */
  const frame = make('rect', g);
  
  
  frame.setAttribute('x', left);
  frame.setAttribute('y', top);
  frame.setAttribute('width', right - left);
  frame.setAttribute('height', bottom - top);
  frame.setAttribute('fill', 'none');
  frame.setAttribute('stroke', '#000');
  frame.setAttribute('stroke-width', '2.8');

  /* ticks */
  let tickD = '';
  lonMajorTicks.forEach(function (v) {
    tickD += 'M' + xf(v).toFixed(1) + ' ' + top + 'v-5.5M' + xf(v).toFixed(1) + ' ' + bottom + 'v5.5';
  });
  lonMinorTicks.forEach(function (v) {
    tickD += 'M' + xf(v).toFixed(1) + ' ' + top + 'v-3M' + xf(v).toFixed(1) + ' ' + bottom + 'v3';
  });
  latTickValues.forEach(function (v) {
    tickD += 'M' + left.toFixed(1) + ' ' + yf(v).toFixed(1) + 'h-5.5M' + right.toFixed(1) + ' ' + yf(v).toFixed(1) + 'h5.5';
  });
  latMinorTicks.forEach(function (v) {
    tickD += 'M' + left.toFixed(1) + ' ' + yf(v).toFixed(1) + 'h-3M' + right.toFixed(1) + ' ' + yf(v).toFixed(1) + 'h3';
  });
  const ticks = make('path', g);
  
  
  ticks.setAttribute('d', tickD);
  ticks.setAttribute('stroke', '#000');
  ticks.setAttribute('stroke-width', '1.6');
  ticks.setAttribute('fill', 'none');

  /* titles and latitude labels */
  const title = make('text', g);
  
  
  title.setAttribute('x', cfg.col === 0 ? 101 : 843);
  title.setAttribute('y', top - 14 + cfg.titleShift);
  title.setAttribute('font-size', '34.6');
  title.textContent = panelTitles[idx];

  if (cfg.col === 0) {
    latTickLabels.forEach(function (label, i) {
      const t = make('text', g);
      
      
      t.setAttribute('x', '74');
      t.setAttribute('y', yf(latTickValues[i]) + 12);
      t.setAttribute('font-size', '34.2');
      t.setAttribute('text-anchor', 'end');
      t.textContent = label;
    });
  }
  if (cfg.row === 0) {
    const tag = make('text', g);
    
    
    tag.setAttribute('x', cfg.col === 0 ? 737 : 1479);
    tag.setAttribute('y', '38');
    tag.setAttribute('font-size', '34.9');
    tag.setAttribute('text-anchor', 'end');
    tag.textContent = cfg.col === 0 ? 'Observed' : 'CFS Forecast';
  }
});

/* ---------- Colour bar ---------- */
const barRoot = document.getElementById('colorbar');
const barX = function (i) { return 229.8 + i * 54.85; };
colorBoxes.forEach(function (c, i) {
  const r = make('rect', barRoot);
  
  
  r.setAttribute('x', barX(i).toFixed(1));
  r.setAttribute('y', '1002.5');
  r.setAttribute('width', '54.85');
  r.setAttribute('height', '23.5');
  r.setAttribute('fill', c);
  r.setAttribute('stroke', '#000');
  r.setAttribute('stroke-width', '1.4');
});
colorLevels.forEach(function (v, i) {
  const t = make('text', barRoot);
  
  
  t.setAttribute('x', barX(i + 1).toFixed(1));
  t.setAttribute('y', '1054');
  t.setAttribute('font-size', '30');
  t.setAttribute('text-anchor', 'middle');
  t.textContent = String(v);
});
</script>
</body>
</html>
